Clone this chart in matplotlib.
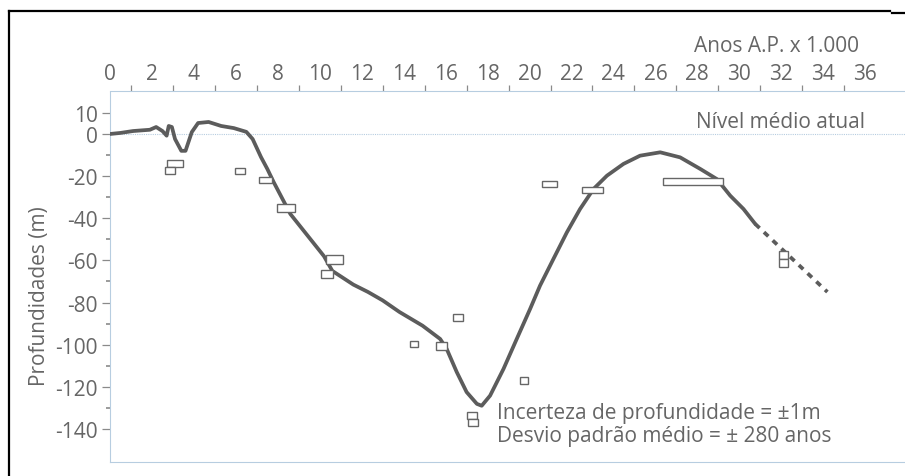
import matplotlib
matplotlib.use("Agg")
import matplotlib.pyplot as plt
from matplotlib.lines import Line2D
from matplotlib.patches import Rectangle

plt.rcParams['font.family'] = ['Open Sans', 'DejaVu Sans']

# Sea-level curve (age in ka BP, depth in m)
curve_age = [0, 0.5, 1.1, 1.9, 2.2, 2.5, 2.7, 2.8, 2.95, 3.1, 3.4, 3.6, 3.9, 4.2,
             4.7, 5.3, 5.9, 6.5, 6.8, 7.2, 7.5, 7.8, 8.6, 9.4, 10.2, 10.6, 11.6,
             12.3, 13.0, 13.8, 14.9, 15.74, 16.05, 16.53, 17.0, 17.49, 17.72,
             18.12, 18.76, 19.39, 20.03, 20.5, 21.14, 21.78, 22.41, 23.05,
             23.69, 24.48, 25.27, 26.23, 27.18, 28.14, 28.93, 29.57, 30.2, 30.76]
curve_depth = [0, 0.5, 1.4, 2.0, 3.3, 1.4, -0.8, 3.8, 3.3, -2.4, -8.0, -8.0, 0.9,
               5.2, 5.7, 3.8, 2.8, 1.0, -2.4, -11, -16.6, -22.8, -38, -48, -58,
               -65, -71.5, -75, -79, -84.5, -91, -97.3, -102, -113, -122.5,
               -128.1, -129, -124.2, -111.5, -97.3, -83, -72, -59.3, -46.7,
               -35.6, -26.1, -19.8, -14.2, -10.3, -8.7, -11.1, -16.6, -21.4,
               -29.3, -35.6, -42.7]

# Extrapolated part of the curve
trend_age = [30.76, 34.2]
trend_depth = [-42.7, -75]

# Dated samples: centre age, centre depth, age span, depth span
box_age = [3.1, 2.85, 6.2, 7.4, 8.4, 10.7, 10.35, 14.5, 15.8, 16.6, 17.25,
           17.3, 19.75, 20.95, 23.0, 27.8, 32.1, 32.1]
box_depth = [-14.0, -17.4, -17.6, -21.7, -35.0, -59.5, -66.4, -99.7, -100.6,
             -87.0, -133.5, -136.8, -117.0, -23.7, -26.6, -22.5, -57.5, -61.3]
box_span = [0.8, 0.5, 0.45, 0.6, 0.85, 0.8, 0.55, 0.4, 0.5, 0.45, 0.45,
            0.45, 0.4, 0.7, 1.0, 2.85, 0.4, 0.4]
box_height = [3.5, 3.3, 3.0, 3.0, 3.8, 4.0, 3.6, 3.0, 3.6, 3.2, 3.3,
              3.3, 3.3, 2.8, 2.8, 3.2, 3.8, 3.8]

x_labels = list(range(0, 37, 2))
x_minor = list(range(1, 37))
y_major = [10, 0, -20, -40, -60, -80, -100, -120, -140]
y_minor = [-10, -30, -50, -70, -90, -110, -130]

txt = '#666666'
line_col = '#5c5c5c'
axis_col = '#b7cde0'
fs = 15

fig = plt.figure(figsize=(9.05, 4.77), dpi=100)
ax = fig.add_axes([110 / 905, 1 - 463 / 477, 795 / 905, (463 - 92) / 477])
ax.set_xlim(0, 37.9)
ax.set_ylim(-155.7, 20.4)

# axis lines as light dotted rules
for side in ['left', 'top', 'bottom']:
    ax.spines[side].set_color(axis_col)
    ax.spines[side].set_linestyle((0, (1, 1)))
    ax.spines[side].set_linewidth(0.8)
ax.spines['right'].set_visible(False)
ax.axhline(0, color=axis_col, lw=0.8, ls=(0, (1, 1)), zorder=1)

# top age axis
ax.xaxis.tick_top()
ax.set_xticks(x_labels)
ax.set_xticklabels([str(v) for v in x_labels])
ax.set_xticks(x_minor, minor=True)
ax.tick_params(axis='x', which='major', length=0, pad=5, labelsize=fs,
               labelcolor=txt)
ax.tick_params(axis='x', which='minor', length=4, width=0.9, color='#8a8a8a',
               direction='out')

# depth axis
ax.set_yticks(y_major)
ax.set_yticklabels([str(v) for v in y_major])
ax.set_yticks(y_minor, minor=True)
ax.tick_params(axis='y', which='major', length=6, width=0.9, color='#8a8a8a',
               pad=3, labelsize=fs, labelcolor=txt)
ax.tick_params(axis='y', which='minor', length=3, width=1.2, color='#8a8a8a')
ax.set_ylabel('Profundidades (m)', fontsize=fs, color=txt)
ax.yaxis.set_label_coords(-0.075, 0.45)

# curve
ax.plot(curve_age, curve_depth, color=line_col, lw=2.7, solid_joinstyle='round',
        solid_capstyle='round', zorder=3)
ax.plot(trend_age, trend_depth, color=line_col, lw=2.7, ls=(0, (1.6, 1.6)),
        zorder=3)

# sample boxes
for a, d, w, h in zip(box_age, box_depth, box_span, box_height):
    ax.add_patch(Rectangle((a - w / 2, d - h / 2), w, h, facecolor='white',
                           edgecolor='#666666', lw=1.0, zorder=4))

ax.text(35.7, 41.8, 'Anos A.P. x 1.000', ha='right', va='center', fontsize=fs,
        color=txt, clip_on=False)
ax.text(36.0, 5.7, 'Nível médio atual', ha='right', va='center', fontsize=fs,
        color=txt)
ax.text(18.45, -132, 'Incerteza de profundidade = ±1m', ha='left', va='center',
        fontsize=fs, color=txt)
ax.text(18.45, -143.3, 'Desvio padrão médio = ± 280 anos', ha='left',
        va='center', fontsize=fs, color=txt)

# outer frame (top and left edges)
fig.add_artist(Line2D([9 / 905, 890 / 905], [1 - 12 / 477, 1 - 12 / 477],
                      color='black', lw=1.6, transform=fig.transFigure))
fig.add_artist(Line2D([9 / 905, 9 / 905], [1 - 12 / 477, 0],
                      color='black', lw=1.6, transform=fig.transFigure))
fig.add_artist(Line2D([892 / 905, 905 / 905], [1 - 14 / 477, 1 - 14 / 477],
                      color='black', lw=1.6, transform=fig.transFigure))

fig.savefig('out.png', dpi=100)
